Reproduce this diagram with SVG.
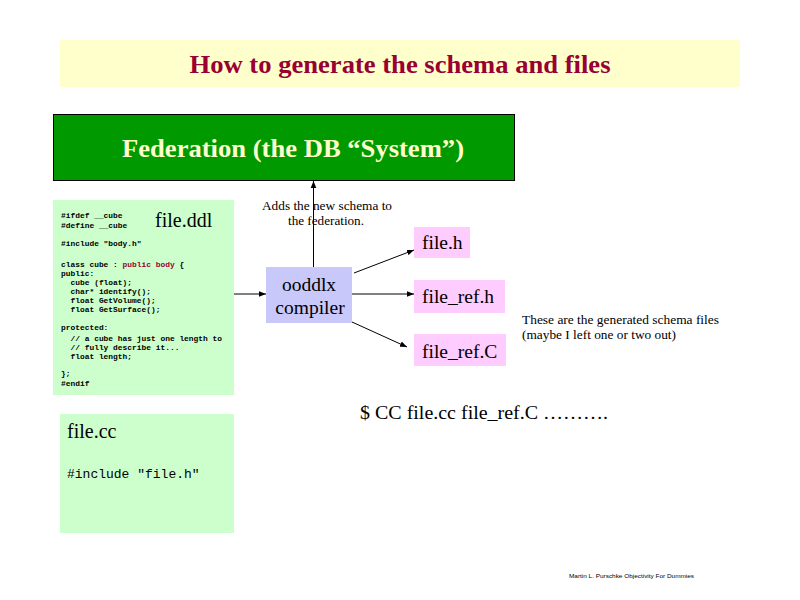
<svg xmlns="http://www.w3.org/2000/svg" width="800" height="600" viewBox="0 0 800 600">
<defs>
<marker id="ah" viewBox="0 0 10 10" refX="10" refY="5" markerWidth="7" markerHeight="7" markerUnits="userSpaceOnUse" orient="auto">
<path d="M0,1 L10,5 L0,9 z" fill="#000"/>
</marker>
</defs>
<style>
.serif{font-family:"Liberation Serif","Times New Roman",serif;}
.mono{font-family:"Liberation Mono","Courier New",monospace;}
.code{font-family:"Liberation Mono","Courier New",monospace;font-size:7.9px;font-weight:bold;fill:#000;}
.conn{stroke:#000;stroke-width:1;fill:none;marker-end:url(#ah);}
.gen{fill:#FFCCFF;}
.lbl{font-family:"Liberation Serif","Times New Roman",serif;font-size:19.5px;fill:#000;}
.note{font-family:"Liberation Serif","Times New Roman",serif;font-size:11.5px;fill:#000;}
</style>
<rect width="800" height="600" fill="#fff"/>
<g id="title">
<rect x="60" y="40" width="680" height="47" fill="#FFFFCC"/>
<text x="400" y="73" text-anchor="middle" class="serif" font-size="26" font-weight="bold" fill="#990033" textLength="421" lengthAdjust="spacingAndGlyphs">How to generate the schema and files</text>
</g>
<g id="federation">
<rect x="53.5" y="114.5" width="461" height="66" fill="#009900" stroke="#000"/>
<text x="293" y="157" text-anchor="middle" class="serif" font-size="25" font-weight="bold" fill="#FFFFCC" textLength="342" lengthAdjust="spacingAndGlyphs">Federation (the DB “System”)</text>
</g>
<g id="file_ddl">
<rect x="53" y="200" width="181" height="195" fill="#CCFFCC"/>
<text x="155" y="227" class="serif" font-size="20" fill="#000">file.ddl</text>
<text class="code" xml:space="preserve"><tspan x="61" y="218">#ifdef __cube</tspan><tspan x="61" y="228">#define __cube</tspan><tspan x="61" y="246">#include "body.h"</tspan><tspan x="61" y="267">class cube : <tspan fill="#990033">public body</tspan> {</tspan><tspan x="61" y="276">public:</tspan><tspan x="61" y="285">  cube (float);</tspan><tspan x="61" y="294">  char* identify();</tspan><tspan x="61" y="303">  float GetVolume();</tspan><tspan x="61" y="312">  float GetSurface();</tspan><tspan x="61" y="330">protected:</tspan><tspan x="61" y="341">  // a cube has just one length to</tspan><tspan x="61" y="350">  // fully describe it...</tspan><tspan x="61" y="359">  float length;</tspan><tspan x="61" y="376">};</tspan><tspan x="61" y="386">#endif</tspan></text>
</g>
<g id="file_cc">
<rect x="60" y="414" width="174" height="119" fill="#CCFFCC"/>
<text x="67" y="438" class="serif" font-size="20" fill="#000">file.cc</text>
<text x="67" y="478" class="mono" font-size="13" fill="#000">#include ″file.h"</text>
</g>
<g id="compiler">
<rect x="266" y="267" width="86" height="56" fill="#C8C8FA"/>
<text x="309" y="291" text-anchor="middle" class="lbl">ooddlx</text>
<text x="310" y="314" text-anchor="middle" class="lbl">compiler</text>
</g>
<g id="file_h">
<rect x="414" y="227" width="56" height="31" class="gen"/>
<text x="422" y="249" class="lbl">file.h</text>
</g>
<g id="file_ref_h">
<rect x="414" y="280" width="91" height="33" class="gen"/>
<text x="422" y="303" class="lbl">file_ref.h</text>
</g>
<g id="file_ref_C">
<rect x="414" y="334" width="92" height="32" class="gen"/>
<text x="422" y="358" class="lbl">file_ref.C</text>
</g>
<g id="connectors">
<line x1="234" y1="294" x2="266" y2="294" class="conn"/>
<line x1="313.5" y1="267" x2="313.5" y2="181" class="conn"/>
<line x1="354" y1="273" x2="414" y2="250" class="conn"/>
<line x1="352" y1="294" x2="414" y2="294" class="conn"/>
<line x1="352" y1="322" x2="407" y2="347" class="conn"/>
</g>
<g id="notes">
<text x="262" y="210" class="note" textLength="130" lengthAdjust="spacingAndGlyphs">Adds the new schema to</text>
<text x="288" y="225" class="note" textLength="76" lengthAdjust="spacingAndGlyphs">the federation.</text>
<text x="522" y="324" class="note" textLength="197" lengthAdjust="spacingAndGlyphs">These are the generated schema files</text>
<text x="522" y="339" class="note" textLength="154" lengthAdjust="spacingAndGlyphs">(maybe I left one or two out)</text>
<text x="360" y="419" class="serif" font-size="19" fill="#000" textLength="248" lengthAdjust="spacingAndGlyphs">$ CC file.cc file_ref.C ……….</text>
<text x="569" y="578" font-family="Liberation Sans, Arial, sans-serif" font-size="6" fill="#000" textLength="125" lengthAdjust="spacingAndGlyphs">Martin L. Purschke Objectivity For Dummies</text>
</g>
</svg>
